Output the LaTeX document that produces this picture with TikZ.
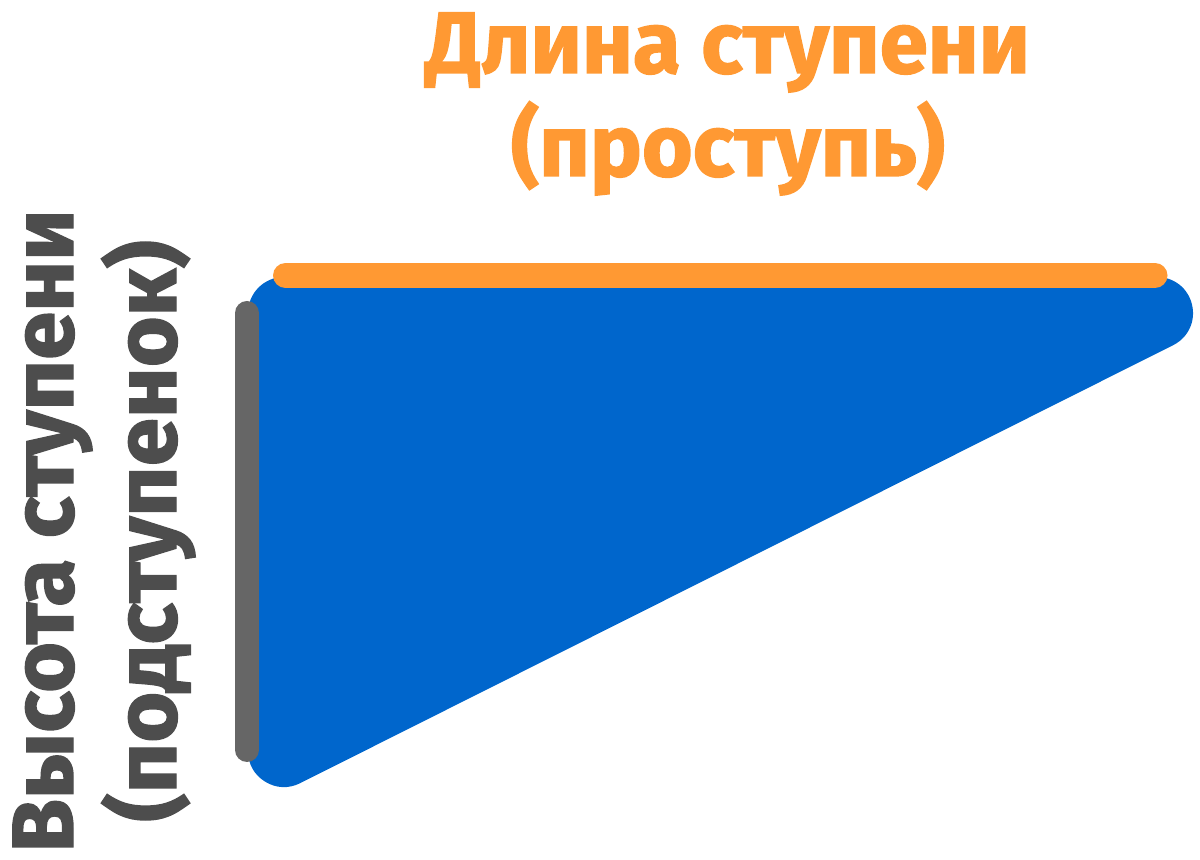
\documentclass[tikz,border=0pt]{standalone}
\usepackage{fontspec}
\newfontfamily\labfont{Fira Sans}[BoldFeatures={FakeBold=1.6}]
\definecolor{stepblue}{HTML}{0066CC}
\definecolor{steporange}{HTML}{FF9933}
\definecolor{stepgray}{HTML}{666666}
\definecolor{textgray}{HTML}{4D4D4D}
\begin{document}
\begin{tikzpicture}[x=0.5pt,y=-0.5pt,
  labtext/.style={inner sep=0pt, font=\labfont\bfseries\fontsize{43.5pt}{50pt}\selectfont},
  toplab/.style={labtext, text=steporange, anchor=base},
  sidelab/.style={labtext, text=textgray, anchor=base, rotate=90}]
\useasboundingbox (0,0) rectangle (1200,860);
% triangle corners
\coordinate (tl) at (284,313);
\coordinate (tr) at (1157,313);
\coordinate (bl) at (284,751);
\filldraw[stepblue, line width=36pt, line join=round] (tl) -- (tr) -- (bl) -- cycle;
% tread line
\coordinate (o1) at (285.5,275.5);
\coordinate (o2) at (1155,275.5);
\draw[steporange, line width=12.5pt, line cap=round] (o1) -- (o2);
% riser line
\coordinate (g1) at (247,313);
\coordinate (g2) at (247,750);
\draw[stepgray, line width=12pt, line cap=round] (g1) -- (g2);
% labels
\node[toplab] (t1) at (728,73) {Длина ступени};
\node[toplab] (t2) at (728,176) {(проступь)};
\node[sidelab] (s1) at (73,531) {Высота ступени};
\node[sidelab] (s2) at (176,531) {(подступенок)};
\end{tikzpicture}
\end{document}
